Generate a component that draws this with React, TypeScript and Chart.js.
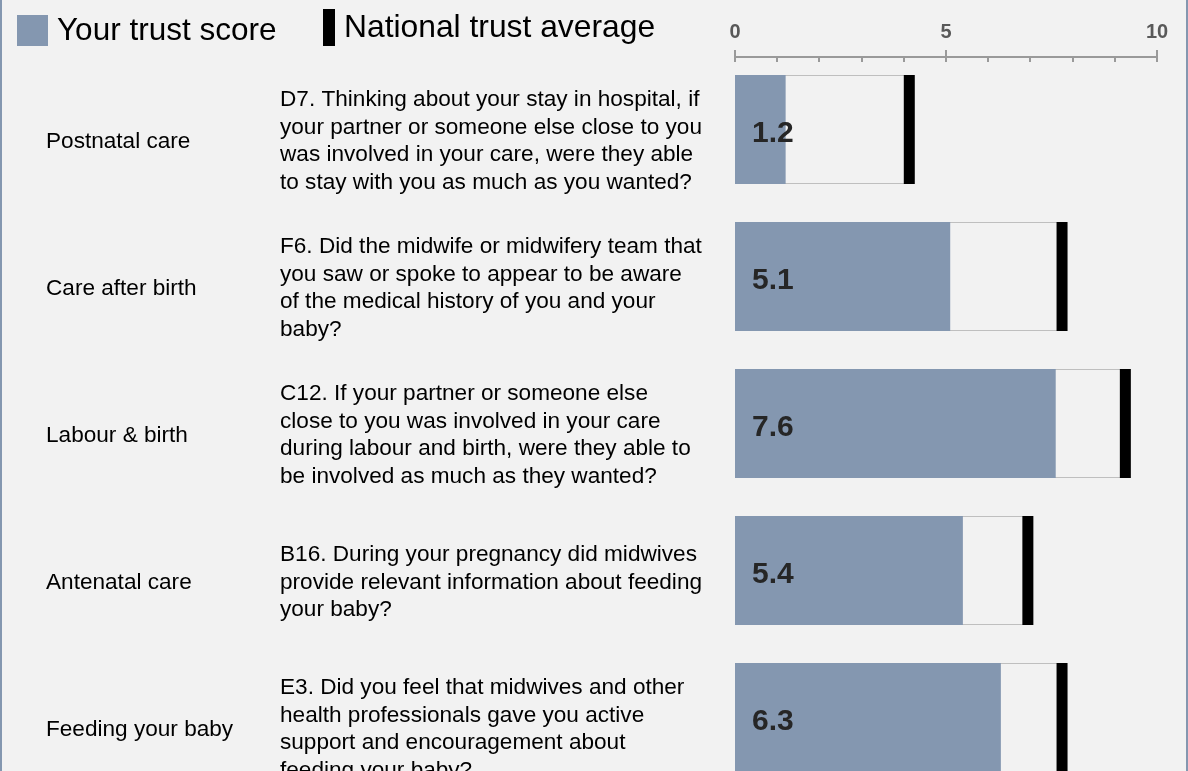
import React, { useEffect, useRef } from "react";
import { Chart, registerables } from "chart.js";

Chart.register(...registerables);

// ---------- data ----------
const CATEGORIES = [
  "Postnatal care",
  "Care after birth",
  "Labour & birth",
  "Antenatal care",
  "Feeding your baby",
];

const QUESTIONS = [
  [
    "D7. Thinking about your stay in hospital, if",
    "your partner or someone else close to you",
    "was involved in your care, were they able",
    "to stay with you as much as you wanted?",
  ],
  [
    "F6. Did the midwife or midwifery team that",
    "you saw or spoke to appear to be aware",
    "of the medical history of you and your",
    "baby?",
  ],
  [
    "C12. If your partner or someone else",
    "close to you was involved in your care",
    "during labour and birth, were they able to",
    "be involved as much as they wanted?",
  ],
  [
    "B16. During your pregnancy did midwives",
    "provide relevant information about feeding",
    "your baby?",
  ],
  [
    "E3. Did you feel that midwives and other",
    "health professionals gave you active",
    "support and encouragement about",
    "feeding your baby?",
  ],
];

const TRUST_SCORES = [1.2, 5.1, 7.6, 5.4, 6.3];
const NATIONAL_AVERAGES = [4.13, 7.75, 9.25, 6.94, 7.75];

const X_MIN = 0;
const X_MAX = 10;
const X_LABELLED_TICKS = [0, 5, 10];

const LEGEND_LABELS = ["Your trust score", "National trust average"];

// ---------- styles ----------
const FONT = "'Liberation Sans', Arial, Helvetica, sans-serif";
const BLUE = "#8497b0";
const BG = "#f2f2f2";
const AXIS_GREY = "#9a9a9a";

const legendPlugin = {
  id: "customLegend",
  afterDraw(chart: any) {
    const { ctx } = chart;
    ctx.save();
    ctx.fillStyle = BLUE;
    ctx.fillRect(17, 15, 31, 31);
    ctx.fillStyle = "#000";
    ctx.fillRect(323, 9, 12, 37);
    ctx.textAlign = "left";
    ctx.textBaseline = "alphabetic";
    ctx.fillStyle = "#000";
    ctx.font = `31.5px ${FONT}`;
    ctx.fillText(LEGEND_LABELS[0], 57, 40);
    ctx.font = `31.8px ${FONT}`;
    ctx.fillText(LEGEND_LABELS[1], 344, 36.5);
    ctx.restore();
  },
};

const axisPlugin = {
  id: "topAxisTicks",
  afterDraw(chart: any) {
    const { ctx, chartArea } = chart;
    const xs = chart.scales.x;
    const y = chartArea.top + 1;
    ctx.save();
    ctx.strokeStyle = AXIS_GREY;
    ctx.lineWidth = 2;
    ctx.beginPath();
    ctx.moveTo(xs.left, y);
    ctx.lineTo(xs.right, y);
    ctx.stroke();
    xs.ticks.forEach((t: any) => {
      const px = Math.round(xs.getPixelForValue(t.value));
      const major = X_LABELLED_TICKS.includes(t.value);
      ctx.beginPath();
      ctx.moveTo(px, major ? y - 7 : y);
      ctx.lineTo(px, y + 5);
      ctx.stroke();
    });
    ctx.restore();
  },
};

const valueLabelPlugin = {
  id: "valueLabels",
  afterDatasetsDraw(chart: any) {
    const { ctx } = chart;
    const meta = chart.getDatasetMeta(1);
    const x0 = chart.scales.x.getPixelForValue(0);
    ctx.save();
    ctx.font = `bold 30px ${FONT}`;
    ctx.fillStyle = "#262626";
    ctx.textAlign = "left";
    ctx.textBaseline = "alphabetic";
    meta.data.forEach((el: any, i: number) => {
      ctx.fillText(TRUST_SCORES[i].toFixed(1), x0 + 17, el.y + 12.5);
    });
    ctx.restore();
  },
};

const fitY = (width: number) => (s: any) => {
  s.width = width;
  s.paddingTop = 0;
  s.paddingBottom = 0;
};

export default function App() {
  const canvasRef = useRef<HTMLCanvasElement | null>(null);

  useEffect(() => {
    if (!canvasRef.current) return;
    const chart = new Chart(canvasRef.current, {
      data: {
        datasets: [
          {
            type: "bar",
            label: "National box",
            data: NATIONAL_AVERAGES,
            backgroundColor: BG,
            borderColor: "#bfbfbf",
            borderWidth: 1,
            grouped: false,
            categoryPercentage: 1,
            barPercentage: 109 / 147,
            yAxisID: "yQ",
            xAxisID: "x",
            indexAxis: "y",
            order: 3,
          } as any,
          {
            type: "bar",
            label: LEGEND_LABELS[0],
            data: TRUST_SCORES,
            backgroundColor: BLUE,
            borderWidth: 0,
            grouped: false,
            categoryPercentage: 1,
            barPercentage: 109 / 147,
            yAxisID: "yQ",
            xAxisID: "x",
            indexAxis: "y",
            order: 2,
          } as any,
          {
            type: "line",
            label: LEGEND_LABELS[1],
            data: NATIONAL_AVERAGES,
            showLine: false,
            pointStyle: "line",
            pointRotation: 90,
            pointRadius: 54.5,
            pointHoverRadius: 54.5,
            pointBorderWidth: 11,
            pointBorderColor: "#000",
            pointBackgroundColor: "#000",
            yAxisID: "yQ",
            xAxisID: "x",
            indexAxis: "y",
            order: 1,
            clip: false,
          } as any,
        ],
      },
      options: {
        indexAxis: "y",
        animation: false,
        responsive: false,
        events: [],
        layout: { autoPadding: false, padding: { left: 46, right: 31, top: 0, bottom: 9 } },
        plugins: {
          legend: { display: false },
          tooltip: { enabled: false },
        },
        scales: {
          x: {
            type: "linear",
            position: "top",
            min: X_MIN,
            max: X_MAX,
            grid: { display: false },
            border: { display: false },
            ticks: {
              stepSize: 1,
              autoSkip: false,
              maxRotation: 0,
              padding: 4,
              color: "#595959",
              font: { family: FONT, size: 20, weight: "bold" },
              callback: (v: any) =>
                X_LABELLED_TICKS.includes(Number(v)) ? String(v) : "",
            },
            afterFit: (s: any) => {
              s.height = 56;
              s.paddingLeft = 0;
              s.paddingRight = 0;
            },
          },
          yCat: {
            type: "category",
            position: "left",
            labels: CATEGORIES,
            offset: true,
            weight: 2,
            grid: { display: false },
            border: { display: false },
            ticks: {
              autoSkip: false,
              crossAlign: "far",
              labelOffset: 12,
              padding: 0,
              color: "#000",
              font: { family: FONT, size: 22.6, lineHeight: 1.217 },
            },
            afterFit: fitY(234),
          },
          yQ: {
            type: "category",
            position: "left",
            labels: QUESTIONS as any,
            offset: true,
            weight: 1,
            grid: { display: false },
            border: { display: false },
            ticks: {
              autoSkip: false,
              crossAlign: "far",
              labelOffset: 12,
              padding: 0,
              color: "#000",
              font: { family: FONT, size: 22.6, lineHeight: 1.217 },
            },
            afterFit: fitY(455),
          },
        } as any,
      },
      plugins: [axisPlugin, valueLabelPlugin, legendPlugin],
    } as any);
    return () => chart.destroy();
  }, []);

  return (
    <div
      style={{
        position: "fixed",
        left: 0,
        top: 0,
        width: 1188,
        height: 771,
        overflow: "hidden",
        background: BG,
      }}
    >
      <canvas
        ref={canvasRef}
        width={1188}
        height={800}
        style={{ position: "absolute", left: 0, top: 0, width: 1188, height: 800 }}
      />
      <div
        style={{ position: "absolute", left: 0, top: 0, width: 2, height: 771, background: BLUE }}
      />
      <div
        style={{ position: "absolute", left: 1186, top: 0, width: 2, height: 771, background: BLUE }}
      />
    </div>
  );
}
